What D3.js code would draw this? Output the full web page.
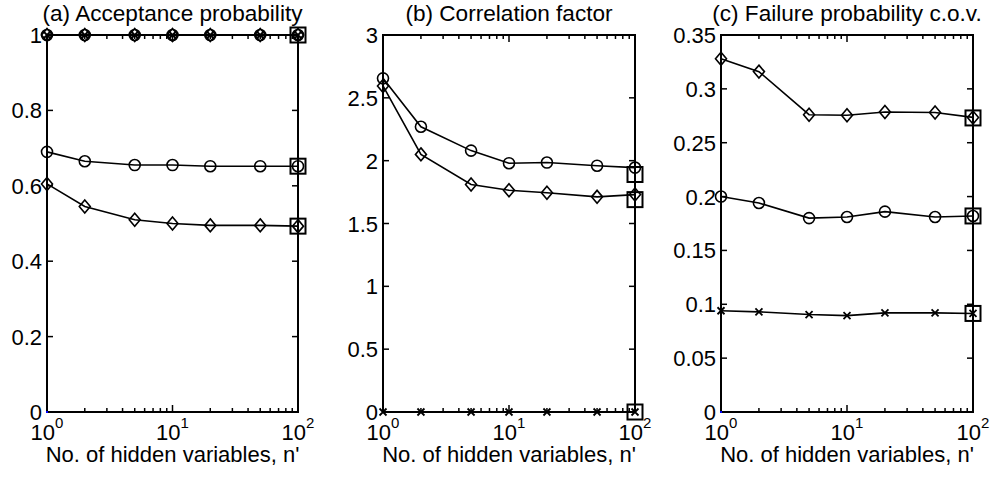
<!DOCTYPE html>
<html>
<head>
<meta charset="utf-8">
<script src="https://cdn.jsdelivr.net/npm/d3@7"></script>
<style>
  body { margin: 0; background: #fff; }
  text { font-family: 'Liberation Sans', Arial, sans-serif; fill: #000; }
</style>
</head>
<body>
<svg width="994" height="484"></svg>
<script>
const svg = d3.select('svg');
const xAxisLabelText = "No. of hidden variables, n'";

// number of hidden variables (x positions)
const nValues = [1, 2, 5, 10, 20, 50, 100];
const xTickPowers = [0, 1, 2];

// (a) acceptance probability
const accTopCircle = [1, 1, 1, 1, 1, 1, 1];
const accTopDiamond = [1, 1, 1, 1, 1, 1, 1];
const accTopCross = [1, 1, 1, 1, 1, 1, 1];
const accCircle = [0.69, 0.665, 0.655, 0.655, 0.652, 0.652, 0.652];
const accDiamond = [0.605, 0.545, 0.51, 0.50, 0.495, 0.495, 0.493];
const accReference = [1.0, 0.652, 0.493];
const accTicks = [0, 0.2, 0.4, 0.6, 0.8, 1];

// (b) correlation factor
const corrCircle = [2.655, 2.27, 2.08, 1.98, 1.985, 1.96, 1.945];
const corrDiamond = [2.595, 2.05, 1.81, 1.765, 1.745, 1.712, 1.73];
const corrCross = [0, 0, 0, 0, 0, 0, 0];
const corrReference = [1.89, 1.69, 0];
const corrTicks = [0, 0.5, 1, 1.5, 2, 2.5, 3];

// (c) failure probability c.o.v.
const covDiamond = [0.328, 0.316, 0.276, 0.2755, 0.2785, 0.278, 0.2735];
const covCircle = [0.2, 0.194, 0.18, 0.181, 0.186, 0.181, 0.182];
const covCross = [0.094, 0.093, 0.0905, 0.0895, 0.092, 0.092, 0.0915];
const covReference = [0.273, 0.182, 0.0915];
const covTicks = [0, 0.05, 0.1, 0.15, 0.2, 0.25, 0.3, 0.35];

const panels = [
  {
    title: '(a) Acceptance probability', left: 47, right: 298,
    yMax: 1, ticks: accTicks, reference: accReference,
    series: [
      { values: accTopCircle, marker: 'circle' },
      { values: accTopDiamond, marker: 'diamond' },
      { values: accTopCross, marker: 'cross' },
      { values: accCircle, marker: 'circle' },
      { values: accDiamond, marker: 'diamond' }
    ]
  },
  {
    title: '(b) Correlation factor', left: 383, right: 635,
    yMax: 3, ticks: corrTicks, reference: corrReference,
    series: [
      { values: corrCircle, marker: 'circle' },
      { values: corrDiamond, marker: 'diamond' },
      { values: corrCross, marker: 'cross' }
    ]
  },
  {
    title: '(c) Failure probability c.o.v.', left: 721, right: 973,
    yMax: 0.35, ticks: covTicks, reference: covReference,
    series: [
      { values: covDiamond, marker: 'diamond' },
      { values: covCircle, marker: 'circle' },
      { values: covCross, marker: 'cross' }
    ]
  }
];

const plotTop = 35;
const plotBottom = 412;
const fontSize = 22;

const drawMarker = (g, kind, x, y) => {
  if (kind === 'circle') {
    g.append('circle')
      .attr('cx', x).attr('cy', y).attr('r', 5.5)
      .attr('fill', 'none').attr('stroke', '#000').attr('stroke-width', 1.6);
  } else if (kind === 'diamond') {
    g.append('path')
      .attr('d', `M${x},${y - 6.5}L${x + 5.5},${y}L${x},${y + 6.5}L${x - 5.5},${y}Z`)
      .attr('fill', 'none').attr('stroke', '#000').attr('stroke-width', 1.6);
  } else {
    g.append('path')
      .attr('d', `M${x - 3.5},${y - 3.5}L${x + 3.5},${y + 3.5}M${x - 3.5},${y + 3.5}L${x + 3.5},${y - 3.5}`)
      .attr('stroke', '#000').attr('stroke-width', 1.8);
  }
};

const render = p => {
  const xScale = d3.scaleLog().domain([1, 100]).range([p.left, p.right]);
  const yScale = d3.scaleLinear().domain([0, p.yMax]).range([plotBottom, plotTop]);
  const g = svg.append('g');

  // title
  g.append('text')
    .attr('x', (p.left + p.right) / 2)
    .attr('y', 21)
    .attr('text-anchor', 'middle')
    .attr('font-size', 22.6)
    .text(p.title);

  // minor and major x ticks, top and bottom, inward
  const minor = [];
  [1, 10].forEach(d => { for (let k = 2; k <= 9; k++) minor.push(d * k); });
  minor.forEach(v => {
    const x = xScale(v);
    g.append('line').attr('x1', x).attr('x2', x).attr('y1', plotBottom).attr('y2', plotBottom - 4)
      .attr('stroke', '#000').attr('stroke-width', 1.5);
    g.append('line').attr('x1', x).attr('x2', x).attr('y1', plotTop).attr('y2', plotTop + 4)
      .attr('stroke', '#000').attr('stroke-width', 1.5);
  });
  xTickPowers.forEach(pw => {
    const x = xScale(Math.pow(10, pw));
    g.append('line').attr('x1', x).attr('x2', x).attr('y1', plotBottom).attr('y2', plotBottom - 7)
      .attr('stroke', '#000').attr('stroke-width', 1.5);
    g.append('line').attr('x1', x).attr('x2', x).attr('y1', plotTop).attr('y2', plotTop + 7)
      .attr('stroke', '#000').attr('stroke-width', 1.5);
    const t = g.append('text')
      .attr('x', x)
      .attr('y', 440)
      .attr('text-anchor', 'middle')
      .attr('font-size', fontSize);
    t.append('tspan').text('10');
    t.append('tspan').attr('dy', -12).attr('font-size', 15).text(pw);
  });

  // y ticks left and right, inward, with labels
  p.ticks.forEach(v => {
    const y = yScale(v);
    g.append('line').attr('x1', p.left).attr('x2', p.left + 6).attr('y1', y).attr('y2', y)
      .attr('stroke', '#000').attr('stroke-width', 1.5);
    g.append('line').attr('x1', p.right).attr('x2', p.right - 6).attr('y1', y).attr('y2', y)
      .attr('stroke', '#000').attr('stroke-width', 1.5);
    g.append('text')
      .attr('x', p.left - 5)
      .attr('y', y + 8)
      .attr('text-anchor', 'end')
      .attr('font-size', fontSize)
      .text(v);
  });

  // axes box
  g.append('rect')
    .attr('x', p.left).attr('y', plotTop)
    .attr('width', p.right - p.left).attr('height', plotBottom - plotTop)
    .attr('fill', 'none').attr('stroke', '#000').attr('stroke-width', 2);

  // tiny blue origin mark
  g.append('rect')
    .attr('x', p.left - 1).attr('y', plotBottom - 1).attr('width', 2).attr('height', 2)
    .attr('fill', '#0000ff');

  // x axis label
  g.append('text')
    .attr('x', (p.left + p.right) / 2)
    .attr('y', 462)
    .attr('text-anchor', 'middle')
    .attr('font-size', fontSize)
    .text(xAxisLabelText);

  // series
  const lineGenerator = d3.line()
    .x((d, i) => xScale(nValues[i]))
    .y(d => yScale(d));

  p.series.forEach(s => {
    g.append('path')
      .attr('d', lineGenerator(s.values))
      .attr('fill', 'none')
      .attr('stroke', '#000')
      .attr('stroke-width', 1.6);
    s.values.forEach((v, i) => drawMarker(g, s.marker, xScale(nValues[i]), yScale(v)));
  });

  // reference squares at n' = 100
  p.reference.forEach(v => {
    g.append('rect')
      .attr('x', xScale(100) - 7.5).attr('y', yScale(v) - 7.5)
      .attr('width', 15).attr('height', 15)
      .attr('fill', 'none').attr('stroke', '#000').attr('stroke-width', 2);
  });
};

panels.forEach(render);
</script>
</body>
</html>
